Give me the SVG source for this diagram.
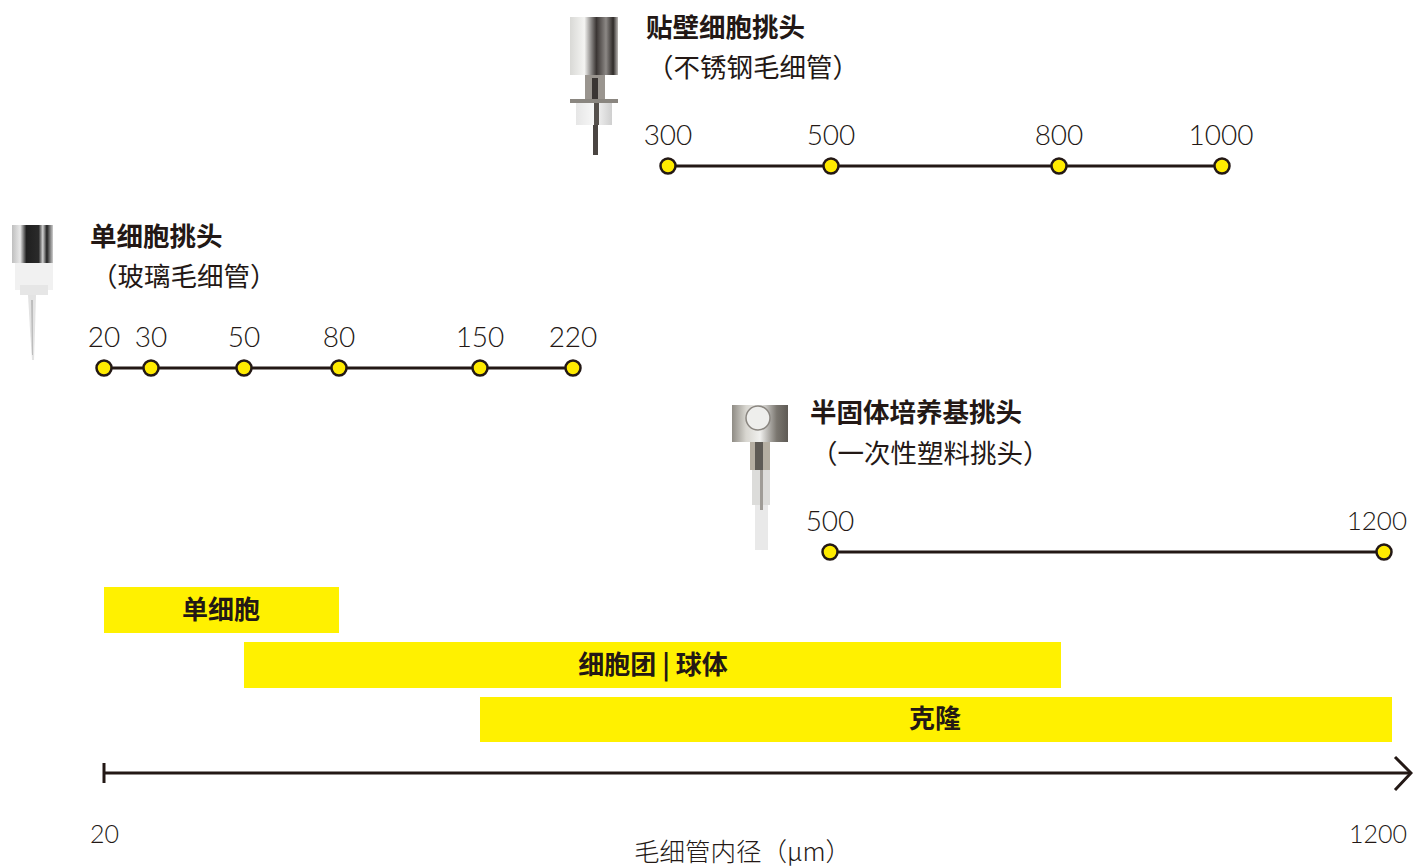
<svg xmlns="http://www.w3.org/2000/svg" width="1413" height="868" viewBox="0 0 1413 868">
<style>
.title{font-family:"Noto Sans CJK SC","Liberation Sans",sans-serif;font-weight:700;font-size:26.5px;fill:#231815}
.sub{font-family:"Noto Sans CJK SC","Liberation Sans",sans-serif;font-weight:400;font-size:26.5px;fill:#231815}
.num{font-family:"Lato","Open Sans",sans-serif;font-weight:300;font-size:28px;fill:#231815;text-anchor:middle}
.edge{font-family:"Lato","Open Sans",sans-serif;font-weight:300;font-size:25px;fill:#231815;text-anchor:end}
.bar{fill:#FFF100}
.barlabel{font-family:"Noto Sans CJK SC","Liberation Sans",sans-serif;font-weight:700;font-size:26px;fill:#231815;text-anchor:middle}
.scale{stroke:#231815;stroke-width:3;fill:none}
.dot{fill:#FFEB00;stroke:#231815;stroke-width:2.5}
</style>
<defs>
<linearGradient id="steel" x1="0" y1="0" x2="1" y2="0">
<stop offset="0" stop-color="#d9d9d6"/>
<stop offset="0.3" stop-color="#f4f4f2"/>
<stop offset="0.55" stop-color="#3a3533"/>
<stop offset="0.75" stop-color="#8c8885"/>
<stop offset="0.9" stop-color="#2e2a28"/>
<stop offset="1" stop-color="#bdbab7"/>
</linearGradient>
<linearGradient id="dark" x1="0" y1="0" x2="1" y2="0">
<stop offset="0" stop-color="#bfbfbf"/>
<stop offset="0.2" stop-color="#e8e8e8"/>
<stop offset="0.35" stop-color="#1f1f1f"/>
<stop offset="0.65" stop-color="#2a2a2a"/>
<stop offset="0.75" stop-color="#d0d0d0"/>
<stop offset="0.85" stop-color="#1f1f1f"/>
<stop offset="1" stop-color="#cfcfcf"/>
</linearGradient>
<linearGradient id="chrome" x1="0" y1="0" x2="1" y2="0">
<stop offset="0" stop-color="#8f8c85"/>
<stop offset="0.25" stop-color="#d8d6d0"/>
<stop offset="0.5" stop-color="#f0f0ee"/>
<stop offset="0.8" stop-color="#7a766f"/>
<stop offset="1" stop-color="#5e5a55"/>
</linearGradient>
<linearGradient id="pale" x1="0" y1="0" x2="1" y2="0">
<stop offset="0" stop-color="#e6e6e6"/>
<stop offset="0.5" stop-color="#f7f7f7"/>
<stop offset="1" stop-color="#cfcfcf"/>
</linearGradient>
</defs>

<g id="tip-adherent">
<rect x="570" y="17" width="48" height="58" fill="url(#steel)"/>
<rect x="585" y="75" width="20" height="25" fill="#9a958f"/>
<rect x="592" y="78" width="6" height="22" fill="#3a3533"/>
<rect x="570" y="99" width="48" height="4" fill="#8a8680"/>
<rect x="576" y="103" width="36" height="22" fill="url(#pale)"/>
<rect x="594" y="103" width="5" height="22" fill="#55504c"/>
<rect x="593" y="125" width="5" height="30" fill="#4a4542"/>
</g>

<g id="tip-single">
<rect x="12" y="225" width="41" height="38" fill="url(#dark)"/>
<rect x="15" y="263" width="38" height="27" fill="#f1f1f1"/>
<rect x="20" y="285" width="28" height="10" fill="#e6e6e6"/>
<path d="M28,295 L36,295 L35,330 L34,360 L32,360 L30,330 Z" fill="#e3e3e3"/>
<path d="M31,300 L33,300 L33,355 L32,355 Z" fill="#bdbdbd"/>
</g>

<g id="tip-semisolid">
<rect x="732" y="405" width="56" height="37" fill="url(#chrome)"/>
<ellipse cx="758" cy="418" rx="12" ry="12" fill="#eeeeec" stroke="#8a8680" stroke-width="1.5"/>
<rect x="750" y="442" width="20" height="28" fill="#b5aea2"/>
<rect x="755" y="442" width="8" height="28" fill="#5e5a55"/>
<rect x="752" y="470" width="18" height="35" fill="#dcdcda"/>
<rect x="755" y="505" width="13" height="45" fill="#e9e9e9"/>
<rect x="760" y="470" width="3" height="40" fill="#9f9c97"/>
</g>

<g id="label-adherent">
<text class="title" x="646" y="37">贴壁细胞挑头</text>
<text class="sub" x="647" y="77">（不锈钢毛细管）</text>
</g>
<g id="label-single">
<text class="title" x="90" y="246">单细胞挑头</text>
<text class="sub" x="91" y="286">（玻璃毛细管）</text>
</g>
<g id="label-semisolid">
<text class="title" x="810" y="422">半固体培养基挑头</text>
<text class="sub" x="811" y="463">（一次性塑料挑头）</text>
</g>

<g id="connectors">
<line class="scale" x1="668" y1="166" x2="1222" y2="166"/>
<line class="scale" x1="104" y1="368" x2="573" y2="368"/>
<line class="scale" x1="830" y1="552" x2="1384" y2="552"/>
<line class="scale" x1="104" y1="773" x2="1410" y2="773" stroke-width="2.5"/>
<line class="scale" x1="104" y1="763" x2="104" y2="783" stroke-width="2.5"/>
<polyline class="scale" points="1395,757 1411,773 1395,790" stroke-width="2.5"/>
</g>

<g id="scale-adherent">
<circle class="dot" cx="668" cy="166" r="7.5"/>
<circle class="dot" cx="831" cy="166" r="7.5"/>
<circle class="dot" cx="1059" cy="166" r="7.5"/>
<circle class="dot" cx="1222" cy="166" r="7.5"/>
<text class="num" x="668" y="145">300</text>
<text class="num" x="831" y="145">500</text>
<text class="num" x="1059" y="145">800</text>
<text class="num" x="1221" y="145">1000</text>
</g>
<g id="scale-single">
<circle class="dot" cx="104" cy="368" r="7.5"/>
<circle class="dot" cx="151" cy="368" r="7.5"/>
<circle class="dot" cx="244" cy="368" r="7.5"/>
<circle class="dot" cx="339" cy="368" r="7.5"/>
<circle class="dot" cx="480" cy="368" r="7.5"/>
<circle class="dot" cx="573" cy="368" r="7.5"/>
<text class="num" x="104" y="347">20</text>
<text class="num" x="151" y="347">30</text>
<text class="num" x="244" y="347">50</text>
<text class="num" x="339" y="347">80</text>
<text class="num" x="480" y="347">150</text>
<text class="num" x="573" y="347">220</text>
</g>
<g id="scale-semisolid">
<circle class="dot" cx="830" cy="552" r="7.5"/>
<circle class="dot" cx="1384" cy="552" r="7.5"/>
<text class="num" x="830" y="531">500</text>
<text class="edge" x="1407" y="530" style="font-size:26px">1200</text>
</g>

<g id="bar-single">
<rect class="bar" x="104" y="587" width="235" height="46"/>
<text class="barlabel" x="221" y="619">单细胞</text>
</g>
<g id="bar-spheroid">
<rect class="bar" x="244" y="642" width="817" height="46"/>
<text class="barlabel" x="653" y="674">细胞团 | 球体</text>
</g>
<g id="bar-clone">
<rect class="bar" x="480" y="697" width="912" height="45"/>
<text class="barlabel" x="935" y="728">克隆</text>
</g>

<g id="axis-labels">
<text class="edge" x="119" y="843">20</text>
<text class="edge" x="1407" y="843">1200</text>
<text class="sub" x="634" y="861" style="font-weight:300;font-size:25.5px">毛细管内径（µm）</text>
</g>
</svg>
